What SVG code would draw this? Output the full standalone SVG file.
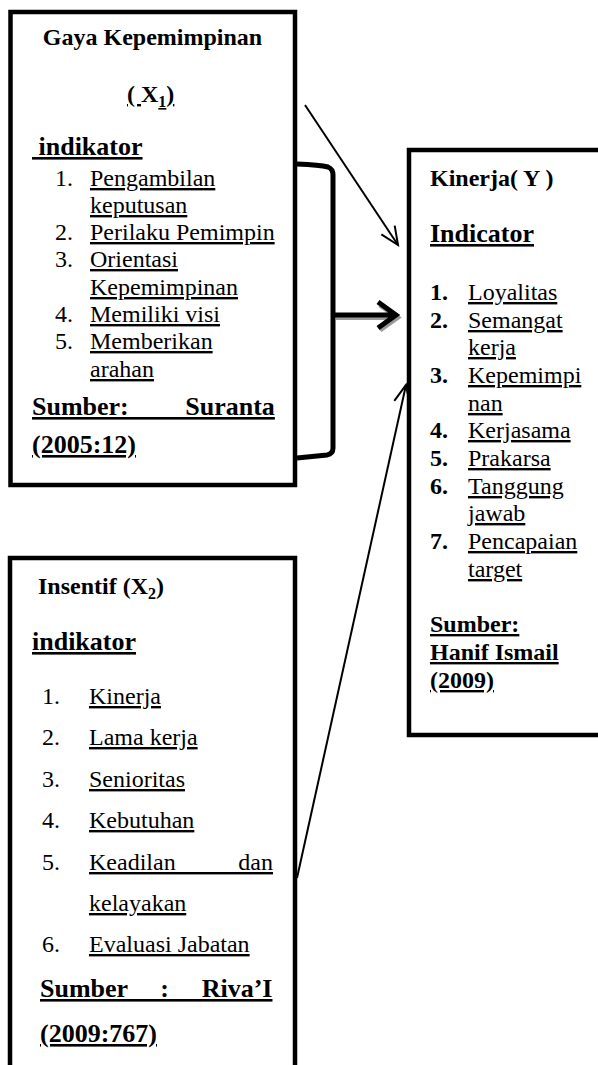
<svg xmlns="http://www.w3.org/2000/svg" width="598" height="1065" viewBox="0 0 598 1065">
<style>
text{font-family:"Liberation Serif","Times New Roman",serif;fill:#000}
.t{font-size:24px;font-weight:bold}
.h{font-size:26px;font-weight:bold;text-decoration:underline}
.i{font-size:24px}
.u{text-decoration:underline}
.b{font-weight:bold}
.s26{font-size:26px;font-weight:bold;text-decoration:underline}
.s24{font-size:24px;font-weight:bold;text-decoration:underline}
.box{fill:#fff;stroke:#000;stroke-width:4.5}
.thin{fill:none;stroke:#000;stroke-width:2;marker-end:url(#open)}
.thick{fill:none;stroke:#000;stroke-width:5;stroke-linejoin:miter}
.shadow{fill:none;stroke:#9a9a9a;stroke-width:5;stroke-linejoin:miter}
</style>
<defs>
<marker id="open" markerUnits="userSpaceOnUse" markerWidth="24" markerHeight="24" viewBox="-21 -12 24 24" refX="0" refY="0" orient="auto"><path d="M-18,-8 L0,0 L-18,8" fill="none" stroke="#000" stroke-width="2"/></marker>
</defs>
<rect width="598" height="1065" fill="#fff"/>

<g id="x1">
<rect class="box" x="10.5" y="12" width="284.5" height="473"/>
<text class="t" x="152.5" y="45" text-anchor="middle">Gaya Kepemimpinan</text>
<text class="t" x="127" y="102"><tspan class="u">( </tspan><tspan>X</tspan><tspan class="u" font-size="16" dy="5">1</tspan><tspan class="u" dy="-5">)</tspan></text>
<text class="h" x="32" y="155">&#160;indikator</text>
<g class="i">
<text x="55" y="186">1.</text><text class="u" x="90" y="186">Pengambilan</text>
<text class="u" x="90" y="213">keputusan</text>
<text x="55" y="240">2.</text><text class="u" x="90" y="240">Perilaku Pemimpin</text>
<text x="55" y="267">3.</text><text class="u" x="90" y="267">Orientasi</text>
<text class="u" x="90" y="295">Kepemimpinan</text>
<text x="55" y="322">4.</text><text class="u" x="90" y="322">Memiliki visi</text>
<text x="55" y="349">5.</text><text class="u" x="90" y="349">Memberikan</text>
<text class="u" x="90" y="377">arahan</text>
</g>
<text class="s26" x="32" y="415" word-spacing="50">Sumber: Suranta</text>
<text class="s26" x="32" y="453">(2005:12)</text>
</g>

<g id="y">
<rect class="box" x="409" y="150" width="200" height="585"/>
<text class="t" x="430" y="186">Kinerja( Y )</text>
<text class="h" x="430" y="242">Indicator</text>
<g class="i">
<text class="b" x="430" y="300">1.</text><text class="u" x="468" y="300">Loyalitas</text>
<text class="b" x="430" y="328">2.</text><text class="u" x="468" y="328">Semangat</text>
<text class="u" x="468" y="355">kerja</text>
<text class="b" x="430" y="383">3.</text><text class="u" x="468" y="383">Kepemimpi</text>
<text class="u" x="468" y="411">nan</text>
<text class="b" x="430" y="438">4.</text><text class="u" x="468" y="438">Kerjasama</text>
<text class="b" x="430" y="466">5.</text><text class="u" x="468" y="466">Prakarsa</text>
<text class="b" x="430" y="494">6.</text><text class="u" x="468" y="494">Tanggung</text>
<text class="u" x="468" y="521">jawab</text>
<text class="b" x="430" y="549">7.</text><text class="u" x="468" y="549">Pencapaian</text>
<text class="u" x="468" y="577">target</text>
</g>
<text class="s24" x="430" y="632">Sumber:</text>
<text class="s24" x="430" y="660">Hanif Ismail</text>
<text class="s24" x="430" y="688">(2009)</text>
</g>

<g id="x2">
<rect class="box" x="10" y="558" width="285" height="530"/>
<text class="t" x="38" y="594">Insentif (X<tspan font-size="16" dy="5">2</tspan><tspan dy="-5">)</tspan></text>
<text class="h" x="32" y="650">indikator</text>
<g class="i">
<text x="42" y="704">1.</text><text class="u" x="89" y="704">Kinerja</text>
<text x="42" y="745">2.</text><text class="u" x="89" y="745">Lama kerja</text>
<text x="42" y="787">3.</text><text class="u" x="89" y="787">Senioritas</text>
<text x="42" y="828">4.</text><text class="u" x="89" y="828">Kebutuhan</text>
<text x="42" y="870">5.</text><text class="u" x="89" y="870" word-spacing="56.7">Keadilan dan</text>
<text class="u" x="89" y="911">kelayakan</text>
<text x="42" y="952">6.</text><text class="u" x="89" y="952">Evaluasi Jabatan</text>
</g>
<text class="s26" x="40" y="997" word-spacing="26.2">Sumber : Riva’I</text>
<text class="s26" x="40" y="1042">(2009:767)</text>
</g>

<g id="connectors">
<path class="thick" d="M297,164 Q320,165 328,167 Q333,169 333,175 L333,448 Q333,454 327,455 L297,458"/>
<path class="shadow" d="M336,317.5 L395,317.5 M380,305 L397.5,317.5 L380,330"/>
<path class="thick" d="M334,315 L393,315 M378,302 L396,315 L378,328"/>
<line class="thin" x1="305" y1="105" x2="398" y2="245"/>
<line class="thin" x1="297" y1="878" x2="406" y2="385"/>
</g>
</svg>
